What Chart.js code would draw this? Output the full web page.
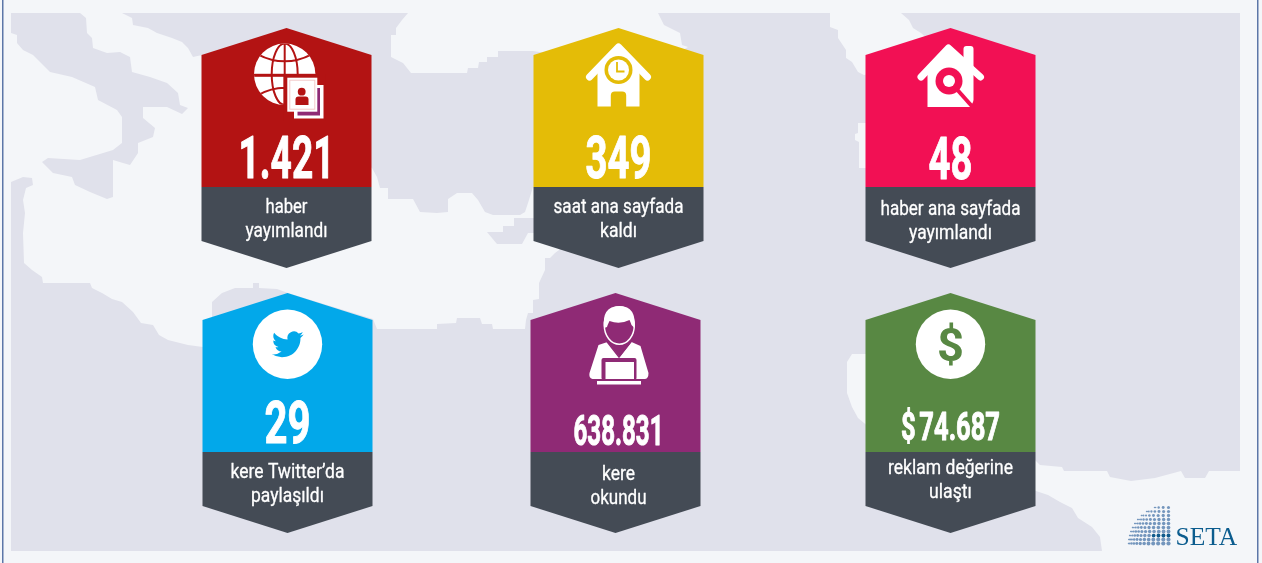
<!DOCTYPE html>
<html lang="tr">
<head>
<meta charset="utf-8">
<title>SETA</title>
<script src="https://cdn.jsdelivr.net/npm/chart.js@4"></script>
<style>
    html, body { margin: 0; padding: 0; background: #f4f6f9; overflow: hidden; }
    canvas { display: block; }
</style>
</head>
<body>
<canvas id="seta" width="1262" height="563"></canvas>
<script>
// Values
const columns = ['sol', 'orta', 'sag'];
const rows = ['ust', 'alt'];
const metricColumns = ['sol', 'orta', 'sag', 'sol', 'orta', 'sag'];
const metricRows = ['ust', 'ust', 'ust', 'alt', 'alt', 'alt'];
const metricValues = [1421, 349, 48, 29, 638831, 74687];
const metricPrefixes = ['', '', '', '', '', '$ '];
const labelFirstLines = ['haber', 'saat ana sayfada', 'haber ana sayfada', 'kere Twitter\u2019da', 'kere', 'reklam de\u011Ferine'];
const labelSecondLines = ['yay\u0131mland\u0131', 'kald\u0131', 'yay\u0131mland\u0131', 'payla\u015F\u0131ld\u0131', 'okundu', 'ula\u015Ft\u0131'];

// Card styles
const cardColors = ['#b31313', '#e4bc07', '#f21054', '#02a8ea', '#8f2a75', '#588843'];
const footerColor = '#444b55';
const seaColor = '#f4f6f9';
const landColor = '#e0e1eb';
const cardNudges = [0.5, 0.5, 0.5, 1.5, -2.5, 0.5];
const textNudges = [0, 0, 0, 0, 3, 0];
const numberSizes = [60, 60, 60, 60, 42, 38];
const numberWidths = [96, 66, 44, 46, 90, 99];
const numberBaselines = [30, 30, 31, 30, 32, 27];
const labelOffsets = [0, 0, 2, 0, 2, -4];
const labelWidths = [[42, 82], [130, 37], [140, 83], [114, 73], [33, 56], [125, 43]];

// Background map outlines, page pixels
const landMain = [[122,13],[132,18],[133,25],[148,28],[157,33],[172,38],[182,42],[188,48],[193,57],[202,55],[372,168],[377,177],[380,188],[388,188],[388,199],[413,199],[420,212],[437,213],[448,212],[448,199],[457,193],[472,193],[478,200],[485,212],[493,215],[520,215],[525,212],[528,203],[533,187],[600,220],[555,253],[550,258],[545,258],[545,270],[539,283],[539,299],[533,300],[533,313],[528,313],[526,320],[525,329],[493,329],[492,324],[482,324],[480,318],[457,318],[456,323],[437,324],[437,329],[377,329],[373,319],[288,293],[277,289],[259,288],[259,283],[253,283],[253,288],[235,288],[222,293],[212,302],[212,320],[203,347],[188,345],[168,340],[159,335],[153,325],[141,323],[133,312],[122,302],[112,299],[102,293],[92,288],[90,283],[43,283],[42,277],[32,270],[24,263],[23,233],[25,213],[23,200],[26,188],[33,185],[32,178],[23,177],[11,182],[11,551],[1102,551],[1100,537],[1092,527],[1078,518],[1072,508],[1060,502],[1048,495],[1036,491],[1030,488],[1030,455],[1040,465],[1062,467],[1064,471],[1107,471],[1110,477],[1131,481],[1155,478],[1181,471],[1185,478],[1205,478],[1209,471],[1240,471],[1240,13],[901,13],[909,20],[913,28],[921,33],[950,60],[864,75],[858,72],[852,62],[846,58],[846,50],[838,38],[838,30],[830,27],[830,13],[658,13],[664,25],[680,33],[682,45],[688,47],[650,70],[533,51],[498,51],[498,57],[487,57],[487,62],[479,62],[478,68],[468,68],[467,73],[411,73],[403,63],[391,57],[391,35],[396,35],[396,28],[402,20],[408,13]];
const landItaly = [[11,13],[80,13],[86,18],[87,33],[92,38],[93,48],[107,53],[120,52],[130,57],[132,72],[150,77],[167,83],[178,93],[180,105],[188,108],[182,114],[167,107],[143,107],[143,118],[155,128],[153,137],[138,143],[138,153],[130,165],[123,163],[113,160],[113,197],[107,199],[90,192],[75,185],[72,177],[53,173],[42,162],[48,158],[80,160],[113,150],[122,143],[122,117],[117,110],[98,100],[95,87],[72,77],[50,72],[33,55],[23,50],[17,43],[17,35],[11,33]];
const landCrete = [[487,232],[503,232],[503,226],[514,226],[514,218],[540,218],[540,233],[528,233],[522,244],[497,244]];
const seaCyprus = [[870,123],[858,123],[858,133],[855,134],[855,140],[859,142],[859,168],[870,168]];
const seaGulf = [[870,354],[852,354],[847,362],[847,393],[852,407],[858,418],[870,428]];

const BIRD = 'M23.953 4.57a10 10 0 01-2.825.775 4.958 4.958 0 002.163-2.723c-.951.555-2.005.959-3.127 1.184a4.92 4.92 0 00-8.384 4.482C7.69 8.095 4.067 6.13 1.64 3.162a4.822 4.822 0 00-.666 2.475c0 1.71.87 3.213 2.188 4.096a4.904 4.904 0 01-2.228-.616v.06a4.923 4.923 0 003.946 4.827 4.996 4.996 0 01-2.212.085 4.936 4.936 0 004.604 3.417 9.867 9.867 0 01-6.102 2.105c-.39 0-.779-.023-1.17-.067a13.995 13.995 0 007.557 2.209c9.053 0 13.998-7.496 13.998-13.985 0-.21 0-.42-.015-.63A9.935 9.935 0 0024 4.59z';

function tracePolygon(ctx, list) {
    ctx.beginPath();
    list.forEach((p, i) => (i ? ctx.lineTo(p[0], p[1]) : ctx.moveTo(p[0], p[1])));
    ctx.closePath();
}

function fillPolygon(ctx, list, color) {
    tracePolygon(ctx, list);
    ctx.fillStyle = color;
    ctx.fill();
}

// The card itself is the point marker: a canvas pointStyle
function makeCard(color, nudge) {
    const c = document.createElement('canvas');
    c.width = 200;
    c.height = 260;
    const g = c.getContext('2d');
    const mx = 100 + nudge;
    fillPolygon(g, [[mx, 10], [mx + 85, 37], [mx + 85, 169], [mx - 85, 169], [mx - 85, 37]], color);
    fillPolygon(g, [[mx - 85, 169], [mx + 85, 169], [mx + 85, 223], [mx, 250], [mx - 85, 223]], footerColor);
    return c;
}

function fitText(ctx, text, x, y, font, width, weight) {
    ctx.save();
    ctx.font = font;
    ctx.textAlign = 'center';
    ctx.textBaseline = 'alphabetic';
    ctx.fillStyle = '#fff';
    ctx.strokeStyle = '#fff';
    ctx.lineWidth = weight;
    ctx.lineJoin = 'round';
    if (text.charAt(0) === '$') ctx.wordSpacing = '-4px';
    ctx.translate(x, y);
    ctx.scale(width / ctx.measureText(text).width, 1);
    ctx.fillText(text, 0, 0);
    ctx.strokeText(text, 0, 0);
    ctx.restore();
}

function drawGlobe(ctx, color) {
    const gx = -1.8, gy = -73.7, r = 30.7;
    ctx.save();
    ctx.beginPath();
    ctx.arc(gx, gy, r, 0, Math.PI * 2);
    ctx.fillStyle = '#fff';
    ctx.fill();
    ctx.clip();
    ctx.strokeStyle = color;
    ctx.lineWidth = 2;
    ctx.beginPath();
    ctx.moveTo(gx, gy - r);
    ctx.lineTo(gx, gy + r);
    ctx.moveTo(gx + 13, gy);
    ctx.ellipse(gx, gy, 13, r, 0, 0, Math.PI * 2);
    ctx.moveTo(gx - 27, gy - 20);
    ctx.quadraticCurveTo(gx, gy - 6, gx + 27, gy - 20);
    ctx.moveTo(gx - 27, gy + 21);
    ctx.quadraticCurveTo(gx, gy + 6, gx + 27, gy + 21);
    ctx.stroke();
    ctx.fillStyle = color;
    ctx.fillRect(gx - r, gy - 0.5, r * 2, 3);
    ctx.restore();
    // documents
    ctx.fillStyle = color;
    ctx.fillRect(-3, -74, 42, 47);
    ctx.fillStyle = '#fff';
    ctx.fillRect(7.5, -63, 29.5, 33.5);
    ctx.fillStyle = '#8f2a75';
    ctx.fillRect(11, -60, 22.5, 27.5);
    ctx.fillStyle = '#fff';
    ctx.fillRect(0.8, -70.3, 30, 34);
    ctx.strokeStyle = '#f3c9c9';
    ctx.lineWidth = 1;
    ctx.strokeRect(3.3, -67.8, 25, 29);
    ctx.fillStyle = color;
    ctx.beginPath();
    ctx.arc(15.2, -56.3, 3.9, 0, Math.PI * 2);
    ctx.fill();
    ctx.beginPath();
    ctx.roundRect(9, -51.5, 13, 8.5, [3, 3, 0, 0]);
    ctx.fill();
}

function drawClockHouse(ctx, color) {
    ctx.lineCap = 'round';
    ctx.lineJoin = 'round';
    ctx.strokeStyle = '#fff';
    ctx.lineWidth = 7;
    ctx.beginPath();
    ctx.moveTo(-29, -71);
    ctx.lineTo(0, -101);
    ctx.lineTo(29, -71);
    ctx.stroke();
    ctx.fillStyle = '#fff';
    ctx.beginPath();
    ctx.moveTo(0, -101);
    ctx.lineTo(21, -80);
    ctx.lineTo(21, -41.5);
    ctx.lineTo(-21, -41.5);
    ctx.lineTo(-21, -80);
    ctx.closePath();
    ctx.fill();
    ctx.fillStyle = color;
    ctx.beginPath();
    ctx.roundRect(-7.7, -56.5, 15.4, 16, [4, 4, 0, 0]);
    ctx.fill();
    ctx.beginPath();
    ctx.arc(0, -78, 14, 0, Math.PI * 2);
    ctx.fill();
    ctx.fillStyle = '#fff';
    ctx.beginPath();
    ctx.arc(0, -78, 10.5, 0, Math.PI * 2);
    ctx.fill();
    ctx.strokeStyle = color;
    ctx.lineWidth = 1.8;
    ctx.lineCap = 'butt';
    ctx.lineJoin = 'miter';
    ctx.beginPath();
    ctx.moveTo(-1.5, -86);
    ctx.lineTo(-1.5, -76.5);
    ctx.lineTo(6, -76.5);
    ctx.stroke();
}

function drawSearchHouse(ctx, color) {
    ctx.fillStyle = '#fff';
    ctx.lineJoin = 'round';
    ctx.lineCap = 'round';
    ctx.strokeStyle = '#fff';
    ctx.lineWidth = 7;
    ctx.beginPath();
    ctx.moveTo(-29.5, -71);
    ctx.lineTo(-2, -100);
    ctx.lineTo(30, -71);
    ctx.stroke();
    ctx.beginPath();
    ctx.moveTo(-2, -101);
    ctx.lineTo(23, -75);
    ctx.lineTo(23, -41);
    ctx.lineTo(-23, -41);
    ctx.lineTo(-23, -75);
    ctx.closePath();
    ctx.fill();
    ctx.beginPath();
    ctx.roundRect(13, -102, 10, 22, [3, 3, 0, 0]);
    ctx.fill();
    // magnifier
    ctx.fillStyle = color;
    ctx.beginPath();
    ctx.moveTo(24, -49);
    ctx.lineTo(25, -38);
    ctx.lineTo(19, -39);
    ctx.closePath();
    ctx.fill();
    ctx.beginPath();
    ctx.arc(-1.5, -67, 13.5, 0, Math.PI * 2);
    ctx.fill();
    ctx.strokeStyle = color;
    ctx.lineWidth = 4;
    ctx.lineCap = 'butt';
    ctx.beginPath();
    ctx.moveTo(7, -58);
    ctx.lineTo(23, -40);
    ctx.stroke();
    ctx.fillStyle = '#fff';
    ctx.beginPath();
    ctx.arc(-1.5, -67, 6, 0, Math.PI * 2);
    ctx.fill();
}

function drawBird(ctx, color) {
    ctx.fillStyle = '#fff';
    ctx.beginPath();
    ctx.arc(0, -68.7, 34.7, 0, Math.PI * 2);
    ctx.fill();
    ctx.save();
    ctx.translate(-15.5, -84.5);
    ctx.scale(1.32, 1.32);
    ctx.fillStyle = color;
    ctx.fill(new Path2D(BIRD));
    ctx.restore();
}

function drawReader(ctx, color) {
    ctx.fillStyle = '#fff';
    // torso
    ctx.beginPath();
    ctx.moveTo(-17, -68);
    ctx.lineTo(-8, -71);
    ctx.lineTo(4, -56);
    ctx.lineTo(16, -71);
    ctx.lineTo(25, -67);
    ctx.quadraticCurveTo(30, -50, 33, -40);
    ctx.quadraticCurveTo(33, -34, 29, -34);
    ctx.lineTo(-23, -34);
    ctx.quadraticCurveTo(-27, -35, -26, -40);
    ctx.closePath();
    ctx.fill();
    ctx.strokeStyle = color;
    ctx.lineWidth = 1.5;
    ctx.beginPath();
    ctx.moveTo(-9, -72);
    ctx.lineTo(3.5, -56);
    ctx.lineTo(16, -72);
    ctx.stroke();
    // face and hair
    ctx.fillStyle = color;
    ctx.strokeStyle = '#fff';
    ctx.beginPath();
    ctx.ellipse(3.8, -87.5, 15, 18.7, 0, 0, Math.PI * 2);
    ctx.fill();
    ctx.stroke();
    ctx.fillStyle = '#fff';
    ctx.beginPath();
    ctx.moveTo(-11.5, -85);
    ctx.quadraticCurveTo(-14, -107, 4, -106.7);
    ctx.quadraticCurveTo(21, -107, 19, -85);
    ctx.lineTo(16, -88);
    ctx.quadraticCurveTo(15, -91, 14, -93);
    ctx.quadraticCurveTo(4, -88, -6, -92);
    ctx.quadraticCurveTo(-8, -88, -8.5, -86);
    ctx.closePath();
    ctx.fill();
    // laptop
    ctx.fillStyle = color;
    ctx.beginPath();
    ctx.roundRect(-14, -55, 35, 22, 2);
    ctx.fill();
    ctx.fillStyle = '#fff';
    ctx.fillRect(-10, -51, 28.5, 17);
    ctx.fillRect(-18.5, -32, 44, 3.5);
}

function drawDollar(ctx, color) {
    ctx.fillStyle = '#fff';
    ctx.beginPath();
    ctx.arc(0, -68.7, 34.7, 0, Math.PI * 2);
    ctx.fill();
    ctx.fillStyle = color;
    ctx.font = 'bold 47px Roboto';
    ctx.textAlign = 'center';
    ctx.fillText('$', 0, -52);
}

const iconPainters = [drawGlobe, drawClockHouse, drawSearchHouse, drawBird, drawReader, drawDollar];

function drawLogo(ctx) {
    const ox = 1170, oy = 545, R = 40;
    for (let i = 0; i < 10; i++) {
        const y = oy - 1.5 - i * 4;
        const half = Math.sqrt(R * R - (oy - y) * (oy - y));
        const count = Math.max(Math.round(half / 3.2), 2);
        for (let j = 0; j <= count; j++) {
            const t = j / count;
            const x = ox - 1.5 - half * Math.sin(t * Math.PI / 2);
            const size = 2.1 * Math.cos(t * Math.PI / 2 * 0.85) * (1 - i * 0.03);
            ctx.beginPath();
            ctx.arc(x, y, Math.max(size, 0.8), 0, Math.PI * 2);
            ctx.fillStyle = (i === 2 && j < 4) ? '#0f5a8c' : '#7496bd';
            ctx.fill();
        }
    }
    ctx.font = '25.5px "Liberation Serif"';
    ctx.textAlign = 'left';
    ctx.fillStyle = '#0b5c8e';
    ctx.fillText('SETA', 1175.5, 545);
}

const mapPlugin = {
    id: 'mapPlugin',
    beforeDatasetsDraw(chart) {
        const ctx = chart.ctx;
        ctx.save();
        ctx.fillStyle = seaColor;
        ctx.fillRect(0, 0, 1262, 563);
        fillPolygon(ctx, landMain, landColor);
        fillPolygon(ctx, landItaly, landColor);
        fillPolygon(ctx, landCrete, landColor);
        fillPolygon(ctx, seaCyprus, seaColor);
        fillPolygon(ctx, seaGulf, seaColor);
        ctx.fillStyle = '#5c76a8';
        ctx.fillRect(2, 0, 1.5, 563);
        ctx.fillRect(1257, 0, 1.5, 563);
        ctx.restore();
    }
};

const cardTextPlugin = {
    id: 'cardTextPlugin',
    afterDatasetsDraw(chart) {
        const ctx = chart.ctx;
        chart.getDatasetMeta(0).data.forEach((point, i) => {
            const cx = point.x + cardNudges[i];
            const tx = cx + textNudges[i];
            const cy = point.y;
            const text = metricPrefixes[i] + metricValues[i].toLocaleString('tr-TR');
            fitText(ctx, text, tx, cy + numberBaselines[i], 'bold ' + numberSizes[i] + 'px Roboto', numberWidths[i], 1);
            fitText(ctx, labelFirstLines[i], tx, cy + 65 + labelOffsets[i], '21px Roboto', labelWidths[i][0], 0.3);
            fitText(ctx, labelSecondLines[i], tx, cy + 89 + labelOffsets[i], '21px Roboto', labelWidths[i][1], 0.3);
            ctx.save();
            ctx.translate(cx, cy);
            iconPainters[i](ctx, cardColors[i]);
            ctx.restore();
        });
        ctx.save();
        drawLogo(ctx);
        ctx.restore();
    }
};

new Chart(document.getElementById('seta'), {
    type: 'scatter',
    data: {
        datasets: [{
            label: 'SETA',
            data: metricValues.map((v, i) => ({ x: metricColumns[i], y: metricRows[i], value: v })),
            pointStyle: cardColors.map((c, i) => makeCard(c, cardNudges[i])),
            clip: false
        }]
    },
    options: {
        responsive: false,
        animation: false,
        events: [],
        layout: { padding: { left: 120, right: 146, top: 15.5, bottom: 17.5 } },
        plugins: { legend: { display: false }, tooltip: { enabled: false } },
        scales: {
            x: { type: 'category', labels: columns, offset: true, display: false },
            y: { type: 'category', labels: rows, offset: true, display: false }
        }
    },
    plugins: [mapPlugin, cardTextPlugin]
});
</script>
</body>
</html>
